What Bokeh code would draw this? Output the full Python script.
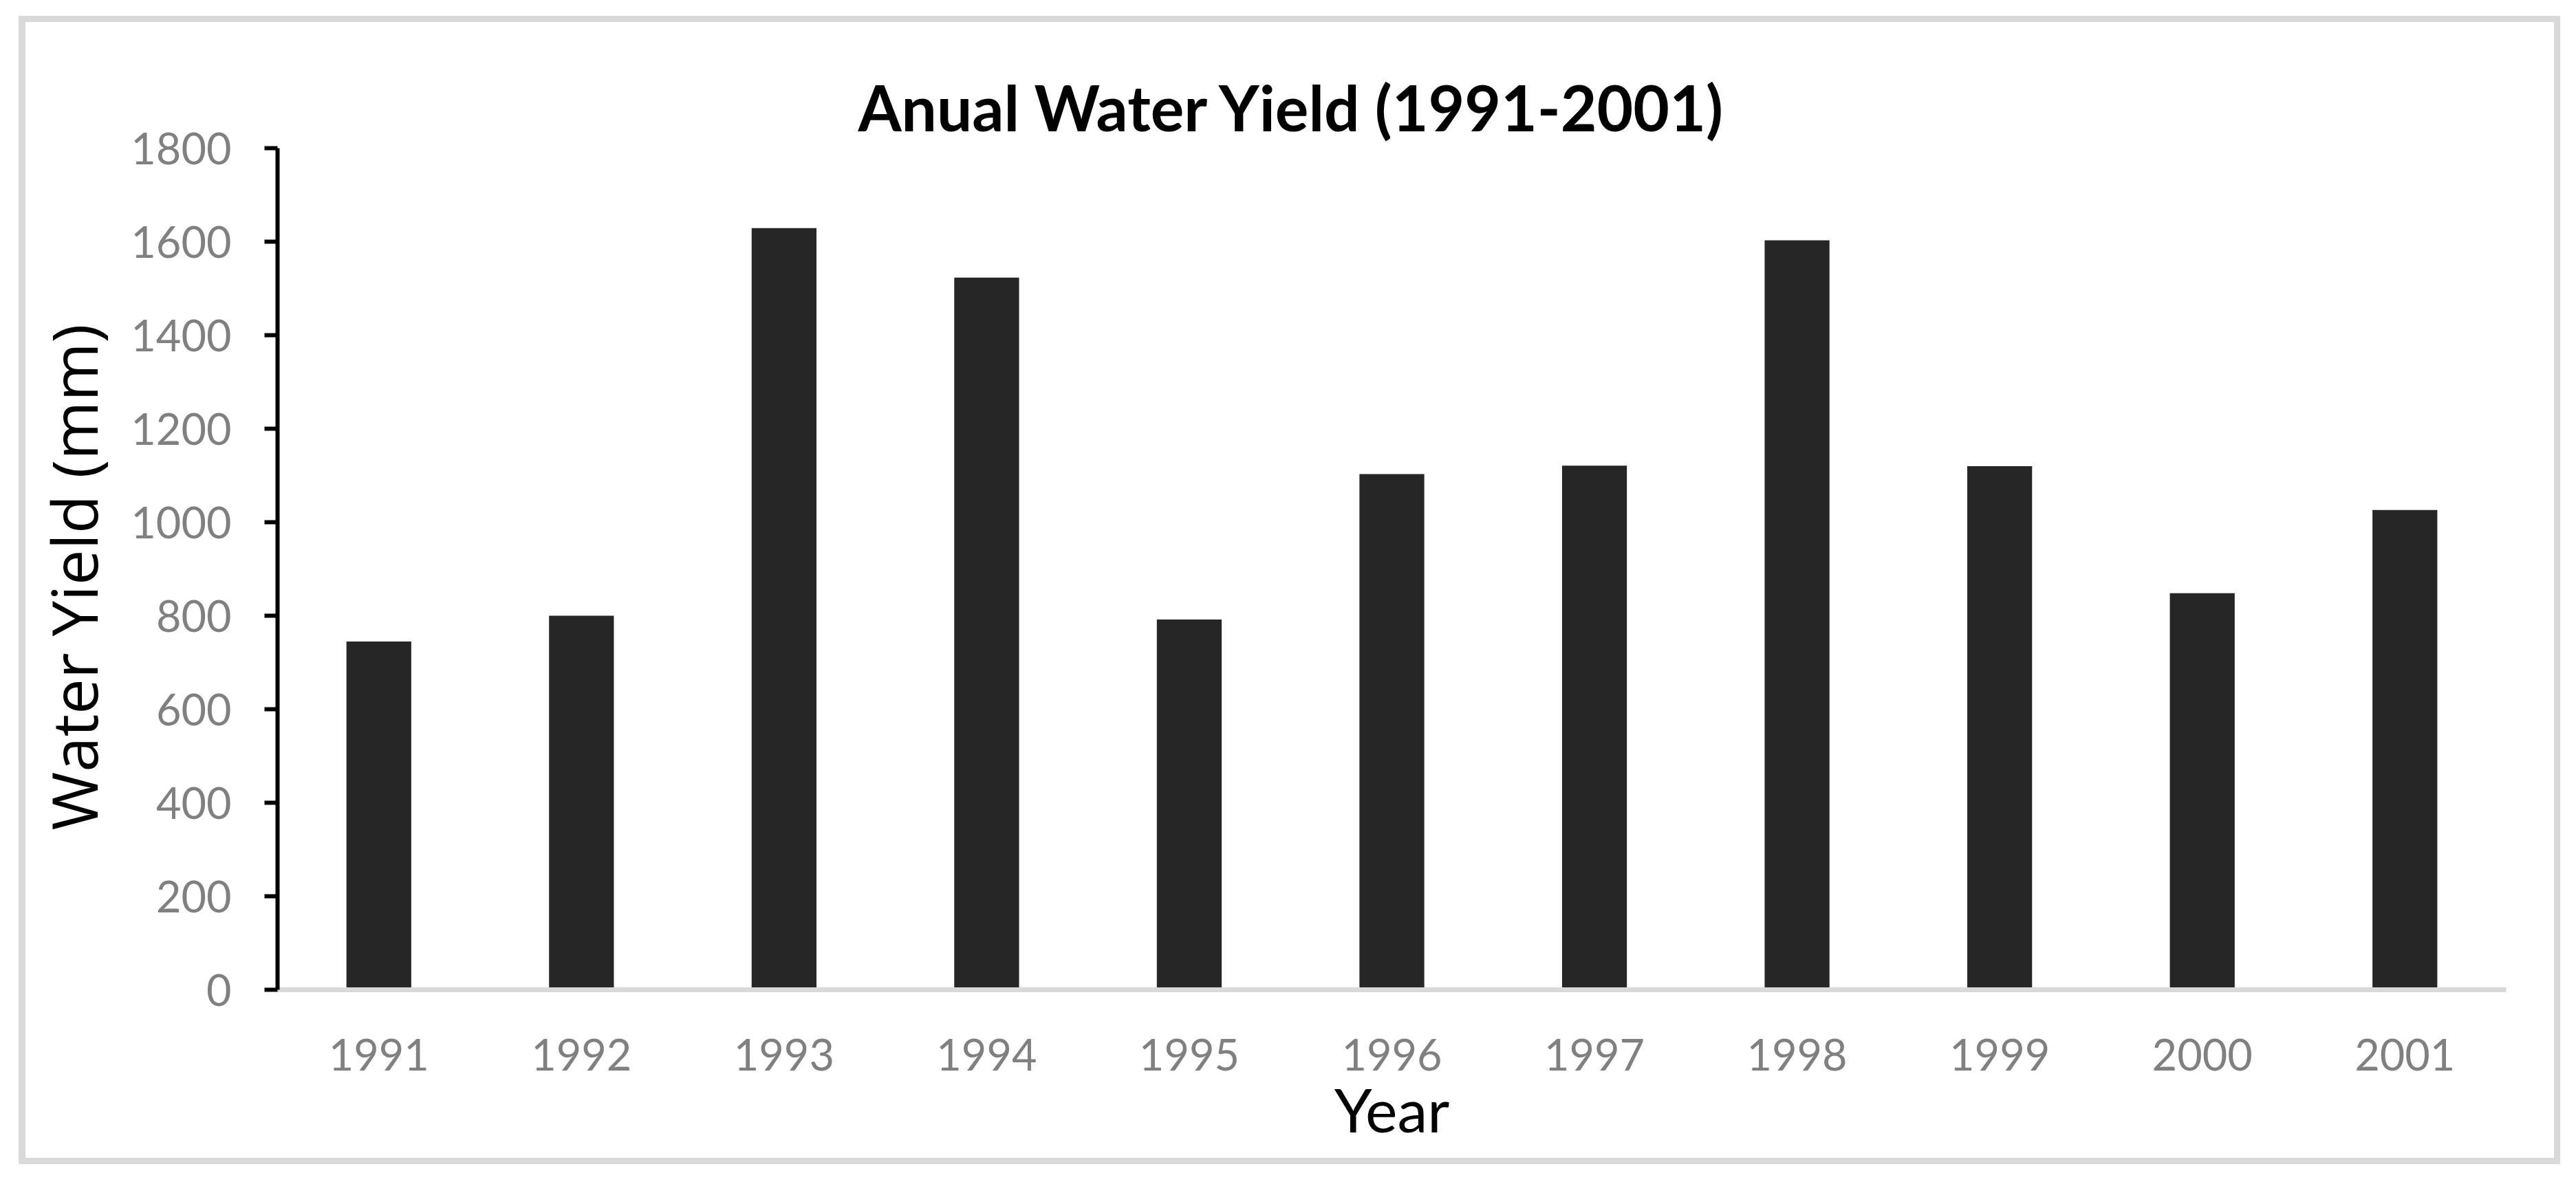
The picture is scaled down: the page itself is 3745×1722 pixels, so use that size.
from bokeh.plotting import figure
from bokeh.models import FactorRange, Range1d, FixedTicker
from bokeh.embed import file_html
from bokeh.resources import INLINE

years = ["1991", "1992", "1993", "1994", "1995", "1996", "1997", "1998", "1999", "2000", "2001"]
water_yield = [745, 800, 1629, 1523, 792, 1103, 1121, 1603, 1120, 848, 1026]
y_ticks = [0, 200, 400, 600, 800, 1000, 1200, 1400, 1600, 1800]

p = figure(
    x_range=FactorRange(factors=years, range_padding=0),
    y_range=Range1d(0, 1800),
    width=3735, height=1706,
    output_backend="svg", toolbar_location=None,
    min_border_left=403, min_border_right=92,
    min_border_top=215, min_border_bottom=267,
    background_fill_color="white", border_fill_color=None,
)

# light grey chart-area border drawn behind the (transparent) canvas border area
g = "linear-gradient(#d9d9d9, #d9d9d9)"
p.styles = {
    "background-color": "white",
    "background-image": ", ".join([g, g, g, g]),
    "background-repeat": "no-repeat",
    "background-position": "27px 23px, 27px 23px, 3713px 23px, 27px 1684px",
    "background-size": "10px 1670px, 3695px 9px, 9px 1670px, 3695px 9px",
}

p.vbar(x=years, top=water_yield, width=0.32, fill_color="#262626", line_color=None)

p.xgrid.visible = False
p.ygrid.visible = False
p.outline_line_color = None

p.title.text = "Anual Water Yield (1991-2001)"
p.title.text_font = "Lato"
p.title.text_font_size = "91px"
p.title.text_font_style = "bold"
p.title.text_color = "black"
p.title.align = "left"
p.title.offset = 844
p.title.standoff = 12

ya = p.yaxis[0]
ya.ticker = FixedTicker(ticks=y_ticks)
ya.axis_line_color = "black"
ya.axis_line_width = 6
ya.major_tick_line_color = "black"
ya.major_tick_line_width = 6
ya.major_tick_out = 19
ya.major_tick_in = 0
ya.minor_tick_line_color = None
ya.major_label_text_font = "Lato"
ya.major_label_text_font_size = "63px"
ya.major_label_text_color = "#808080"
ya.major_label_standoff = 48
ya.axis_label = "Water Yield  (mm)"
ya.axis_label_text_font = "Open Sans"
ya.axis_label_text_font_size = "92px"
ya.axis_label_text_font_style = "normal"
ya.axis_label_text_color = "black"
ya.axis_label_standoff = 18

xa = p.xaxis[0]
xa.axis_line_color = "#d9d9d9"
xa.axis_line_width = 7
xa.major_tick_line_color = None
xa.minor_tick_line_color = None
xa.major_label_text_font = "Lato"
xa.major_label_text_font_size = "63px"
xa.major_label_text_color = "#808080"
xa.major_label_standoff = 65
xa.axis_label = "Year"
xa.axis_label_text_font = "Lato"
xa.axis_label_text_font_size = "88px"
xa.axis_label_text_font_style = "normal"
xa.axis_label_text_color = "black"
xa.axis_label_standoff = 0

open("out.html", "w").write(file_html(p, INLINE))
